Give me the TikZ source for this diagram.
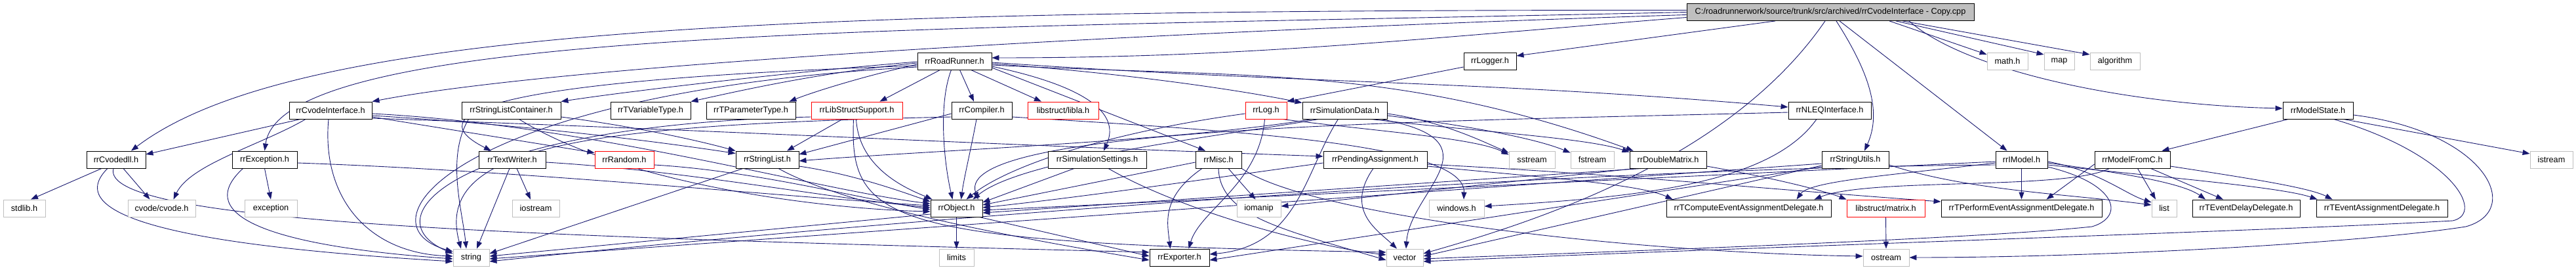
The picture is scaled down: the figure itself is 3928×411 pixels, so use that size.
\documentclass[tikz,border=0pt]{standalone}
\usepackage{fontspec}
\setmainfont{Liberation Sans}
\usetikzlibrary{arrows.meta}
\definecolor{navy}{HTML}{191970}
\definecolor{lgray}{HTML}{BFBFBF}
\definecolor{rootfill}{HTML}{BFBFBF}
\newcommand\lbl{\fontsize{12.7}{14}\selectfont}
\pgfdeclarelayer{bg}
\pgfsetlayers{bg,main}
\tikzset{
 bx/.style={draw=black, line width=0.9pt, fill=white, minimum height=26pt, inner sep=0pt, font=\lbl, text=black},
 gx/.style={bx, draw=lgray},
 rx/.style={bx, draw=red},
 e/.style={draw=navy, line width=0.9pt, -{Triangle[length=11pt,width=8pt]}}
}
\begin{document}
\begin{tikzpicture}[x=1pt,y=-1pt]
\useasboundingbox (0,0) rectangle (3928,411);
% row 0
\node[bx, fill=rootfill, minimum width=438pt] (root) at (2791,18.5) {C:/roadrunnerwork/source/trunk/src/archived/rrCvodeInterface - Copy.cpp};
% row 1
\node[bx, minimum width=113pt] (RR) at (1455.5,93) {rrRoadRunner.h};
\node[bx, minimum width=80pt] (LGR) at (2272,93) {rrLogger.h};
\node[gx, minimum width=62pt] (math) at (3061,93) {math.h};
\node[gx, minimum width=46pt] (map) at (3140,93) {map};
\node[gx, minimum width=76pt] (algo) at (3225,93) {algorithm};
% row 2
\node[bx, minimum width=126pt] (CI) at (504,168) {rrCvodeInterface.h};
\node[bx, minimum width=151pt] (SLC) at (779.5,168) {rrStringListContainer.h};
\node[bx, minimum width=122pt] (TV) at (992,168) {rrTVariableType.h};
\node[bx, minimum width=136pt] (TP) at (1145,168) {rrTParameterType.h};
\node[rx, minimum width=139pt] (LS) at (1306.5,168) {rrLibStructSupport.h};
\node[bx, minimum width=92pt] (CP) at (1497,168) {rrCompiler.h};
\node[rx, minimum width=108pt] (LA) at (1621,168) {libstruct/libla.h};
\node[rx, minimum width=63pt] (LG) at (1930.5,168) {rrLog.h};
\node[bx, minimum width=129pt] (SD) at (2050.5,168) {rrSimulationData.h};
\node[bx, minimum width=126pt] (NL) at (2790,168) {rrNLEQInterface.h};
\node[bx, minimum width=107pt] (MST) at (3534.5,168) {rrModelState.h};
% row 3
\node[bx, minimum width=90pt] (CD) at (177,243) {rrCvodedll.h};
\node[bx, minimum width=99pt] (EX) at (403.5,243) {rrException.h};
\node[bx, minimum width=102pt] (TW) at (781,243) {rrTextWriter.h};
\node[rx, minimum width=90pt] (RN) at (952,243) {rrRandom.h};
\node[bx, minimum width=96pt] (SL) at (1170,243) {rrStringList.h};
\node[bx, minimum width=150pt] (SS) at (1673,243) {rrSimulationSettings.h};
\node[bx, minimum width=70pt] (MS) at (1858,243) {rrMisc.h};
\node[bx, minimum width=158pt] (PA) at (2097,243) {rrPendingAssignment.h};
\node[gx, minimum width=70pt] (SST) at (2336,243) {sstream};
\node[gx, minimum width=66pt] (FST) at (2428,243) {fstream};
\node[bx, minimum width=117pt] (DM) at (2543.5,243) {rrDoubleMatrix.h};
\node[bx, minimum width=102pt] (SU) at (2829,243) {rrStringUtils.h};
\node[bx, minimum width=79pt] (IM) at (3082.5,243) {rrIModel.h};
\node[bx, minimum width=115pt] (MC) at (3251.5,243) {rrModelFromC.h};
\node[gx, minimum width=65pt] (IST) at (3890.5,243) {istream};
% row 4
\node[gx, minimum width=64pt] (STD) at (37,317) {stdlib.h};
\node[gx, minimum width=103pt] (CV) at (246.5,317) {cvode/cvode.h};
\node[gx, minimum width=80pt] (EXC) at (413,317) {exception};
\node[gx, minimum width=72pt] (IOS) at (817,317) {iostream};
\node[bx, minimum width=79pt] (OB) at (1458.5,317) {rrObject.h};
\node[gx, minimum width=67pt] (IOM) at (1919.5,317) {iomanip};
\node[gx, minimum width=84pt] (WIN) at (2221,317) {windows.h};
\node[bx, minimum width=251pt] (TC) at (2666.5,317) {rrTComputeEventAssignmentDelegate.h};
\node[rx, minimum width=119pt] (MAT) at (2875.5,317) {libstruct/matrix.h};
\node[bx, minimum width=245pt] (TPf) at (3082.5,317) {rrTPerformEventAssignmentDelegate.h};
\node[gx, minimum width=38pt] (LST) at (3300,317) {list};
\node[bx, minimum width=164pt] (TED) at (3425,317) {rrTEventDelayDelegate.h};
\node[bx, minimum width=200pt] (TEA) at (3632,317) {rrTEventAssignmentDelegate.h};
% row 5
\node[gx, minimum width=55pt] (STR) at (718.5,392) {string};
\node[gx, minimum width=53pt] (LIM) at (1458.5,392) {limits};
\node[bx, minimum width=91pt] (EXP) at (1798.5,392) {rrExporter.h};
\node[gx, minimum width=56pt] (VEC) at (2142,392) {vector};
\node[gx, minimum width=70pt] (OST) at (2876,392) {ostream};

\begin{pgfonlayer}{bg}
% root
\draw[e] ([yshift=-8pt]root.west) .. controls (2150,60) and (1900,88) .. ([yshift=5pt]RR.east);
\draw[e] ([xshift=-84pt]root.south) -- ([yshift=8pt]LGR.east);
\draw[e] ([xshift=90pt]root.south) -- ([yshift=10pt]math.west);
\draw[e] ([xshift=100pt]root.south) -- ([yshift=10pt]map.west);
\draw[e] ([xshift=110pt]root.south) -- ([yshift=10pt]algo.west);
\draw[e] ([xshift=120pt]root.south) .. controls (3000,110) and (3250,160) .. ([yshift=3pt]MST.west);
\draw[e] ([xshift=14pt]root.south) -- ([xshift=-22pt]IM.north);
\draw[e] ([xshift=9pt]root.south) .. controls (2850,110) and (2870,170) .. ([xshift=14pt]SU.north);
\draw[e] ([xshift=-8pt]root.south) .. controls (2640,240) and (2350,335) .. ([yshift=6pt]VEC.east);
\draw[e] ([yshift=-4pt]root.west) .. controls (1700,50) and (850,100) .. (CI.north east);
\draw[e] ([yshift=0pt]root.west) .. controls (1400,45) and (430,40) .. (EX.north);
\draw[e] ([yshift=3pt]root.west) .. controls (1200,15) and (450,40) .. ([xshift=23pt]CD.north);
% rrLogger
\draw[e] ([yshift=-9pt]LGR.west) -- (LG.north east);
% RR
\draw[e] ([yshift=-1pt]RR.west) .. controls (1200,110) and (950,140) .. (SLC.north east);
\draw[e] ([yshift=-3pt]RR.west) .. controls (1250,110) and (1120,140) .. (TV.north east);
\draw[e] ([yshift=-5pt]RR.west) .. controls (1320,115) and (1240,140) .. ([xshift=-10pt]TP.north east);
\draw[e] ([yshift=-7pt]RR.west) .. controls (800,120) and (620,165) .. ([xshift=-32pt]TW.north);
\draw[e] ([yshift=-9pt]RR.west) .. controls (700,140) and (540,340) .. ([yshift=9pt]STR.west);
\draw[e] ([xshift=-22pt]RR.south) -- ([xshift=-35pt]LS.north east);
\draw[e] ([xshift=-5pt]RR.south) .. controls (1430,160) and (1440,250) .. ([xshift=-6pt]OB.north);
\draw[e] ([xshift=8pt]RR.south) -- ([xshift=-12pt]CP.north);
\draw[e] ([xshift=25pt]RR.south) -- ([xshift=-33pt]LA.north);
\draw[e] ([yshift=-8pt]RR.east) .. controls (1650,130) and (1710,170) .. ([xshift=10pt]SS.north);
\draw[e] ([yshift=-10pt]RR.east) -- ([xshift=-20pt]MS.north);
\draw[e] ([yshift=-4pt]RR.east) .. controls (1700,110) and (1880,135) .. ([yshift=-2pt]SD.north west);
\draw[e] ([yshift=-2pt]RR.east) .. controls (1990,128) and (2254,122) .. ([yshift=5pt]NL.west);
\draw[e] ([yshift=-6pt]RR.east) .. controls (1896,119) and (2128,98) .. ([xshift=6pt]DM.north west);
% CI
\draw[e] ([xshift=-46pt]CI.south) -- ([yshift=8pt]CD.east);
\draw[e] ([xshift=-38pt]CI.south) .. controls (400,220) and (290,250) .. ([xshift=18pt]CV.north);
\draw[e] ([yshift=-10pt]CI.east) -- ([yshift=-3pt]RN.north west);
\draw[e] ([yshift=-12pt]CI.east) .. controls (1133,200) and (1452,218) .. ([yshift=5pt]PA.west);
\draw[e] ([yshift=-5pt]CI.east) .. controls (900,190) and (1250,290) .. ([yshift=7pt]OB.west);
\draw[e] ([yshift=-8pt]CI.east) .. controls (800,190) and (1000,215) .. ([yshift=-4pt]SL.north west);
\draw[e] ([xshift=-3pt]CI.south) .. controls (490,300) and (560,385) .. ([yshift=2pt]STR.west);
% CD
\draw[e] ([xshift=-22pt]CD.south) -- ([xshift=10pt]STD.north);
\draw[e] ([xshift=11pt]CD.south) -- ([xshift=-18pt]CV.north);
\draw[e] ([xshift=-13pt]CD.south) .. controls (80,340) and (350,378) .. ([yshift=-6pt]STR.west);
\draw[e] ([xshift=-4pt]CD.south) .. controls (150,340) and (800,360) .. ([yshift=8pt]EXP.west);
% EX
\draw[e] (EX.south) -- (EXC.north);
\draw[e] ([xshift=-33pt]EX.south) .. controls (290,330) and (420,375) .. ([yshift=-2pt]STR.west);
\draw[e] ([yshift=-5pt]EX.east) .. controls (800,260) and (1200,300) .. ([yshift=4pt]OB.west);
% SLC
\draw[e] ([yshift=-10pt]SLC.east) .. controls (950,190) and (1050,210) .. (SL.north west);
\draw[e] ([xshift=12pt]SLC.south) .. controls (950,280) and (1250,318) .. ([yshift=-5pt]OB.west);
\draw[e] ([xshift=-65pt]SLC.south) .. controls (680,240) and (705,320) .. ([xshift=-7.5pt]STR.north);
% TW
\draw[e] ([xshift=-4pt]TW.south) -- ([xshift=8.5pt]STR.north);
\draw[e] ([xshift=7pt]TW.south) -- ([xshift=-8pt]IOS.north);
\draw[e] ([yshift=-4pt]TW.east) .. controls (1050,260) and (1250,300) .. ([yshift=1pt]OB.west);
% RN
\draw[e] ([yshift=-8pt]RN.east) .. controls (1150,260) and (1300,300) .. ([yshift=-2pt]OB.west);
% SL
\draw[e] ([xshift=-37pt]SL.south) -- ([yshift=6pt]STR.east);
\draw[e] ([xshift=17pt]SL.south) .. controls (1300,320) and (1600,370) .. ([yshift=-4pt]EXP.west);
\draw[e] ([yshift=-10pt]SL.east) .. controls (1300,265) and (1370,290) .. ([yshift=10pt]OB.west);
% LS
\draw[e] ([xshift=-22pt]LS.south) -- ([xshift=30pt]SL.north);
\draw[e] ([xshift=-1pt]LS.south) .. controls (1310,260) and (1390,290) .. ([xshift=3pt]OB.north west);
\draw[e] ([xshift=-5pt]LS.south) .. controls (1295,340) and (1350,370) .. ([yshift=8pt]VEC.west);
\draw[e] ([yshift=-10pt]LS.west) .. controls (700,190) and (560,330) .. ([yshift=6pt]STR.west);
% CP
\draw[e] ([xshift=-8pt]CP.south) .. controls (1480,230) and (1470,270) .. ([xshift=7pt]OB.north);
\draw[e] ([yshift=-5pt]CP.west) -- ([yshift=8pt]SL.east);
\draw[e] ([yshift=-10pt]CP.west) .. controls (900,190) and (660,220) .. ([xshift=-15.5pt]STR.north);
\draw[e] ([yshift=-10pt]CP.east) .. controls (1900,200) and (2235,220) .. ([xshift=11pt]WIN.north);
% LG
\draw[e] ([xshift=-2pt]LG.south) .. controls (1920,280) and (1830,320) .. ([xshift=14pt]EXP.north);
\draw[e] ([yshift=-5pt]LG.west) .. controls (1700,200) and (1540,250) .. ([xshift=15pt]OB.north);
\draw[e] ([xshift=25pt]LG.south) .. controls (2100,200) and (2250,210) .. ([yshift=-6pt]SST.north west);
% SD
\draw[e] ([xshift=-10pt]SD.south) .. controls (1990,260) and (1980,375) .. ([yshift=5pt]EXP.east);
\draw[e] ([yshift=-5pt]SD.east) .. controls (2200,185) and (2260,215) .. ([yshift=-3pt]SST.north west);
\draw[e] ([yshift=-8pt]SD.east) .. controls (2230,190) and (2340,210) .. ([yshift=-3pt]FST.north west);
\draw[e] ([xshift=40pt]SD.south) .. controls (2250,200) and (2420,210) .. ([yshift=-2pt]DM.north west);
\draw[e] ([xshift=-50pt]SD.south) .. controls (1800,215) and (1400,230) .. ([yshift=-2pt]SL.east);
\draw[e] ([xshift=-40pt]SD.south) .. controls (1880,205) and (1560,240) .. ([xshift=25pt]OB.north);
\draw[e] ([xshift=-10pt]SD.south east) .. controls (2290,215) and (2150,290) .. ([xshift=2pt]VEC.north);
% SS
\draw[e] ([xshift=-35pt]SS.south) -- ([yshift=9pt]OB.east);
\draw[e] ([xshift=17pt]SS.south) .. controls (1800,320) and (2000,375) .. ([yshift=4pt]VEC.west);
% MS
\draw[e] ([xshift=-25pt]MS.south) .. controls (1770,300) and (1780,340) .. ([xshift=-14pt]EXP.north);
\draw[e] ([xshift=15pt]MS.south) -- ([xshift=-5pt]IOM.north);
\draw[e] (MS.south) .. controls (1860,330) and (1960,350) .. ([yshift=-4pt]VEC.west);
\draw[e] ([yshift=-4pt]MS.west) -- ([yshift=5pt]OB.east);
\draw[e] (MS.south east) .. controls (2000,330) and (2500,385) .. ([yshift=2pt]OST.west);
% PA
\draw[e] ([xshift=-3pt]PA.south) .. controls (2050,320) and (2100,350) .. ([xshift=-12pt]VEC.north);
\draw[e] ([yshift=-5pt]PA.west) .. controls (1815,276) and (1650,300) .. ([yshift=1pt]OB.east);
\draw[e] ([yshift=-7pt]PA.east) .. controls (2481,266) and (2656,285) .. ([yshift=10pt]TPf.west);
\draw[e] ([yshift=-10pt]PA.east) .. controls (2350,270) and (2500,280) .. ([xshift=10pt]TC.north west);
% DM
\draw[e] ([xshift=-40pt]DM.south) -- ([yshift=-7pt]OB.east);
\draw[e] ([yshift=-10pt]DM.east) .. controls (2700,270) and (2780,290) .. (MAT.north west);
\draw[e] ([xshift=-50pt]DM.south) -- ([yshift=3pt]IOM.east);
% NL
\draw[e] ([xshift=-20pt]NL.south) .. controls (2700,280) and (2500,300) .. ([yshift=3pt]WIN.east);
\draw[e] ([yshift=-3pt]NL.west) .. controls (2200,185) and (1450,190) .. ([xshift=33pt]OB.north);
% SU
\draw[e] ([yshift=-6pt]SU.west) -- ([yshift=-2pt]STR.east);
\draw[e] ([yshift=-9pt]SU.west) -- ([yshift=2pt]VEC.east);
\draw[e] ([yshift=-8pt]SU.east) .. controls (3000,290) and (3150,295) .. ([yshift=5pt]LST.west);
\draw[e] ([yshift=-11pt]SU.west) -- ([yshift=-4pt]EXP.east);
% IM
\draw[e] (IM.south) -- (TPf.north);
\draw[e] ([yshift=-5pt]IM.west) .. controls (2900,265) and (2760,275) .. ([xshift=73pt]TC.north);
\draw[e] ([yshift=-5pt]IM.east) .. controls (3250,265) and (3330,280) .. ([xshift=-62pt]TED.north);
\draw[e] ([yshift=-8pt]IM.east) .. controls (3300,270) and (3480,285) .. ([xshift=2pt]TEA.north west);
\draw[e] ([yshift=-3pt]IM.east) .. controls (3200,260) and (3240,295) .. ([yshift=9pt]LST.west);
\draw[e] ([yshift=-11pt]IM.east) .. controls (3230,280) and (3240,330) .. (3190,345) .. controls (3000,365) and (2400,385) .. ([yshift=-2pt]VEC.east);
\draw[e] ([yshift=-8pt]IM.west) .. controls (2400,255) and (1400,330) .. ([yshift=-6pt]STR.east);
\draw[e] ([yshift=-3pt]IM.west) -- ([yshift=-3pt]OB.east);
% MC
\draw[e] ([yshift=-7pt]MC.west) -- ([xshift=38pt]TPf.north);
\draw[e] ([xshift=8pt]MC.south) -- ([xshift=-13pt]LST.north);
\draw[e] ([xshift=28pt]MC.south) -- ([xshift=-35pt]TED.north);
\draw[e] ([yshift=-10pt]MC.east) .. controls (3420,270) and (3520,285) .. ([xshift=25pt]TEA.north west);
\draw[e] ([xshift=-35pt]MC.south) .. controls (3150,290) and (2850,270) .. ([xshift=100pt]TC.north);
% MST
\draw[e] ([xshift=-45pt]MST.south) -- ([xshift=45pt]MC.north);
\draw[e] ([xshift=-15pt]MST.south east) -- ([yshift=9pt]IST.west);
\draw[e] ([xshift=-30pt]MST.south east) .. controls (3740,235) and (3790,325) .. (3740,336) .. controls (3500,350) and (2700,375) .. ([yshift=-6pt]VEC.east);
\draw[e] ([yshift=-7pt]MST.east) .. controls (3790,200) and (3850,320) .. (3760,345) .. controls (3600,370) and (3200,392) .. (OST.east);
% OB, MAT
\draw[e] (OB.south) -- (LIM.north);
\draw[e] ([xshift=35pt]OB.south) -- ([yshift=2pt]EXP.west);
\draw[e] ([yshift=-9pt]OB.west) -- ([yshift=2pt]STR.east);
\draw[e] (MAT.south) -- (OST.north);
\end{pgfonlayer}
\end{tikzpicture}
\end{document}
